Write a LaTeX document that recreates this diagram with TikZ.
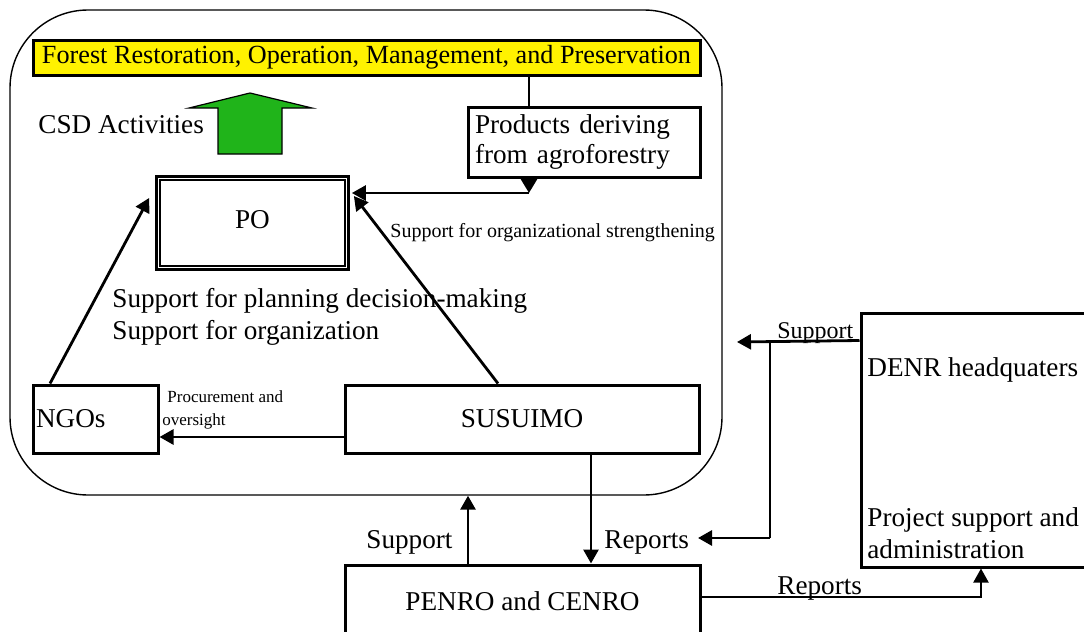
\documentclass[tikz,border=0pt]{standalone}
\usepackage{fontspec}
\setmainfont{Liberation Serif}
\usetikzlibrary{arrows.meta}
\definecolor{csdgreen}{RGB}{32,180,26}

\begin{document}
\begin{tikzpicture}[x=0.5pt,y=-0.5pt]
    \tikzstyle{bx} = [draw, line width=1.5pt, inner sep=0pt,
    font=\fontsize{13.6pt}{15pt}\selectfont];
    \tikzstyle{lb} = [inner sep=0pt, anchor=base west,
    font=\fontsize{13.6pt}{15pt}\selectfont];
    \tikzstyle{sm} = [font=\fontsize{8.5pt}{10pt}\selectfont];
    \tikzstyle{ar} = [line width=1.4pt,
    -{Triangle[length=7pt,width=7.5pt]}];
    \tikzstyle{ln} = [line width=0.6pt,-];

    \useasboundingbox (0,0) rectangle (1084,632);
    \clip (0,0) rectangle (1084,632);

    % outer area and boxes
    \node[draw, line width=0.7pt, rounded corners=39pt,
          minimum width=356pt, minimum height=242.5pt] (area) at (366,252.5){};
    \node[bx, fill=yellow, minimum width=333.5pt, minimum height=17.5pt,
          font=\fontsize{13.1pt}{15pt}\selectfont] (goal) at (366.5,57.5)
          {Forest Restoration, Operation, Management, and Preservation};
    \node[bx, minimum width=116pt, minimum height=35pt, text width=109pt,
          align=left, inner xsep=3.5pt] (prod) at (584,142)
          {Products deriving\\from agroforestry};
    \node[bx, line width=1.4pt, minimum width=96pt, minimum height=46.5pt,
          text depth=4pt] (po) at (252.5,223){PO};
    \draw[line width=0.9pt] ([shift={(2.6pt,-2.6pt)}]po.north west)
          rectangle ([shift={(-2.6pt,2.6pt)}]po.south east);
    \node[bx, minimum width=62.5pt, minimum height=34pt, text width=59.5pt,
          align=left, inner xsep=1.5pt] (ngo) at (95.5,419){NGOs};
    \node[bx, minimum width=177pt, minimum height=34pt] (sus) at (522,419){SUSUIMO};
    \node[bx, minimum width=177.5pt, minimum height=36pt] (pen) at (522.5,601)
          {PENRO and CENRO};
    \node[bx, minimum width=124.5pt, minimum height=127pt] (denr) at (985.5,440){};

    % CSD arrow
    \draw[fill=csdgreen, line width=0.6pt] (218,154) -- (218,108) -- (189,108)
          -- (250,93) -- (312,108) -- (282,108) -- (282,154) -- cycle;

    % connectors
    \coordinate (pj) at (529,193);
    \draw[ln] (goal.south -| pj) -- (prod.north -| pj);
    \draw[line width=1.4pt, -{Triangle[length=7pt,width=8pt]}]
          (prod.south -| pj) -- (pj);
    \draw[ar, shorten >=1pt] (pj) -- (pj -| po.east);

    \draw[ar] ([xshift=-22.75pt]ngo.north) -- ([xshift=-3pt,yshift=12.5pt]po.west);
    \draw[ar] ([xshift=-12pt]sus.north) -- ([xshift=2pt,yshift=13.5pt]po.east);
    \draw[ar] ([yshift=-9pt]sus.west) -- ([yshift=-9pt]ngo.east);

    \coordinate (rp) at ([xshift=34.5pt]sus.south);
    \draw[ar] (rp) -- (rp |- pen.north);
    \coordinate (sp) at ([xshift=-27.25pt]pen.north);
    \draw[ar] (sp) -- (sp |- area.south);

    \coordinate (ds) at ([yshift=-14.5pt]denr.north west);
    \coordinate (dl) at (737,342);
    \coordinate (dv) at (770,342);
    \coordinate (rl) at (698,538);
    \draw[ar] (ds) -- (dl);
    \draw[ln] (dv) -- (dv |- rl);
    \draw[ar] (dv |- rl) -- (rl);

    \coordinate (rr) at (981,0);
    \draw[ar, line width=1pt] ([yshift=2pt]pen.east) -| (rr |- denr.south);

    % labels
    \node[lb] (csd) at (38,133){CSD Activities};
    \node[lb, font=\fontsize{10pt}{12pt}\selectfont] (str) at (390,237)
          {Support for organizational strengthening};
    \node[lb] (plan1) at (112,307){Support for planning decision-making};
    \node[lb] (plan2) at (112,339){Support for organization};
    \node[lb, sm] (proc1) at (167,402){Procurement and};
    \node[lb, sm] (proc2) at (162,425){oversight};
    \node[lb] (sup) at (366,548){Support};
    \node[lb] (rep) at (604,548){Reports};
    \node[lb, font=\fontsize{12pt}{14pt}\selectfont] (sup2) at (777,338){Support};
    \node[lb] (rep2) at (777,594){Reports};
    \node[lb] (hq) at (867,376){DENR headquaters};
    \node[lb] (adm1) at (867,526){Project support and};
    \node[lb] (adm2) at (867,558){administration};

\end{tikzpicture}
\end{document}
